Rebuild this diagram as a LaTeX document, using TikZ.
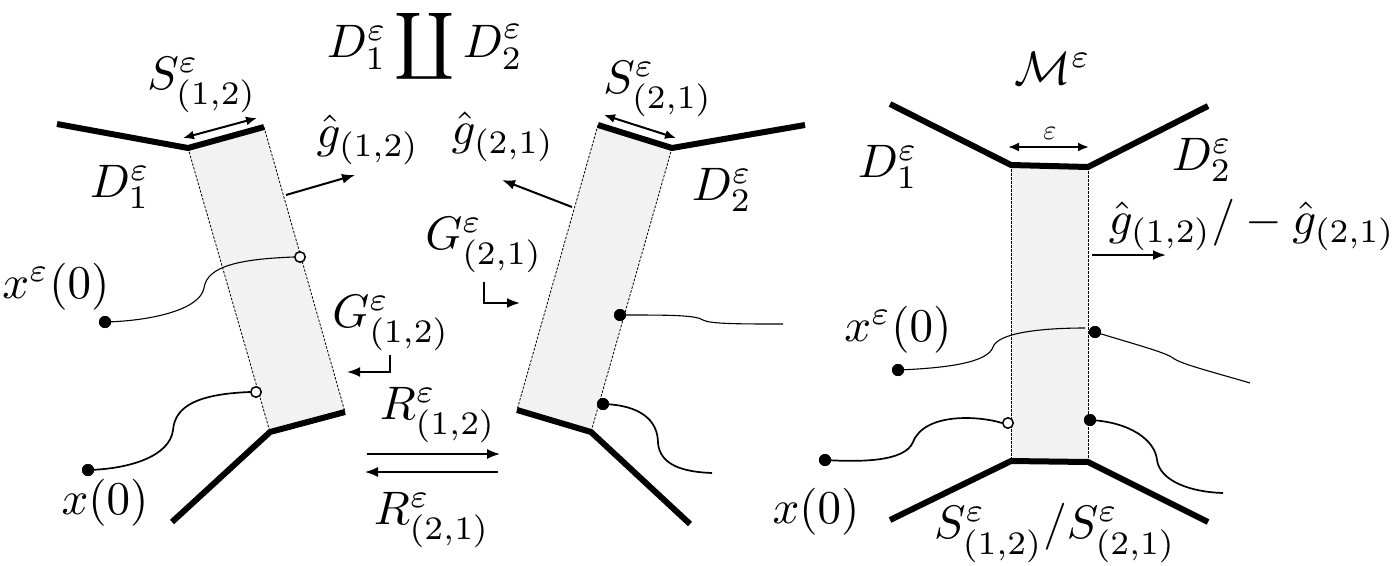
\documentclass[tikz,border=0pt]{standalone}
\usetikzlibrary{arrows.meta}
\definecolor{stripgray}{RGB}{242,242,242}
\begin{document}
\begin{tikzpicture}[x=1pt,y=-1pt,
  wall/.style={line width=6pt, line join=round},
  edge/.style={line width=0.8pt, dash pattern=on 2.5pt off 1.5pt},
  strip/.style={fill=stripgray},
  path1/.style={line width=1.1pt},
  path2/.style={line width=1.7pt},
  arr/.style={line width=2pt, -{Latex[length=13pt,width=10pt]}},
  darr/.style={line width=2pt, {Latex[length=11pt,width=9pt]}-{Latex[length=11pt,width=9pt]}},
  rarr/.style={line width=1.5pt, -{Latex[length=13pt,width=10pt]}},
  fdot/.style={circle, fill=black, inner sep=0pt, minimum size=12pt},
  odot/.style={circle, draw=black, fill=white, line width=1.5pt, inner sep=0pt, minimum size=10.5pt},
  lbl/.style={inner sep=0pt, scale=4.7},
  slbl/.style={inner sep=0pt, scale=2.8}]
\useasboundingbox (0,0) rectangle (1397,565);

% ---------- left piece D1 ----------
\coordinate (LA) at (188,148);
\coordinate (LB) at (264,127);
\coordinate (LC) at (345,412);
\coordinate (LD) at (270,432);
\coordinate (LW1) at (57,124);
\coordinate (LW2) at (172,522);
\fill[strip] (LA)--(LB)--(LC)--(LD)--cycle;
\draw[edge] (LA)--(LD) (LB)--(LC);
\draw[wall] (LW1)--(LA)--(LB);
\draw[wall] (LW2)--(LD)--(LC);

\node[odot] (lo1) at (300,257) {};
\node[fdot] (lf1) at (105,322) {};
\draw[path1] (lo1.west) .. controls (240,259) and (207,266) .. (204,288) .. controls (200,310) and (150,321) .. (lf1.center);
\node[odot] (lo2) at (256,392) {};
\node[fdot] (lf2) at (88,470) {};
\draw[path2] (lo2.west) .. controls (200,394) and (175,405) .. (173,430) .. controls (170,456) and (130,469) .. (lf2.center);
\node[fdot] at (lf1) {};
\node[fdot] at (lf2) {};

\coordinate (ls1) at (183,138);
\coordinate (ls2) at (257,118);
\draw[darr] (ls1)--(ls2);
\node[lbl] (lS) at (202,85) {$S^{\varepsilon}_{(1,2)}$};
\node[lbl] (lD1) at (120,187) {$D^{\varepsilon}_{1}$};
\coordinate (lg1) at (286,195);
\coordinate (lg2) at (355,175);
\draw[arr] (lg1)--(lg2);
\node[lbl] (lg) at (368,140) {$\hat g_{(1,2)}$};
\node[lbl] (lxe) at (56,287) {$x^{\varepsilon}(0)$};
\node[lbl] (lx) at (105,503) {$x(0)$};
\node[lbl] (G12) at (391,323) {$G^{\varepsilon}_{(1,2)}$};
\coordinate (g12a) at (390,355);
\coordinate (g12b) at (347,372);
\draw[arr] (g12a)|-(g12b);

% ---------- title ----------
\node[lbl] (title) at (425,46) {$D^{\varepsilon}_{1}\displaystyle\coprod D^{\varepsilon}_{2}$};

% ---------- R arrows ----------
\coordinate (r1a) at (367,454);
\coordinate (r1b) at (500,454);
\coordinate (r2a) at (498,472);
\coordinate (r2b) at (365,472);
\draw[rarr] (r1a)--(r1b);
\draw[rarr] (r2a)--(r2b);
\node[lbl] (R12) at (438,415) {$R^{\varepsilon}_{(1,2)}$};
\node[lbl] (R21) at (432,520) {$R^{\varepsilon}_{(2,1)}$};

% ---------- middle piece D2 ----------
\coordinate (MP) at (598,125);
\coordinate (MQ) at (672,148);
\coordinate (MR) at (591,432);
\coordinate (MS) at (517,410);
\coordinate (MW1) at (805,125);
\coordinate (MW2) at (690,524);
\fill[strip] (MP)--(MQ)--(MR)--(MS)--cycle;
\draw[edge] (MP)--(MS) (MQ)--(MR);
\draw[wall] (MP)--(MQ)--(MW1);
\draw[wall] (MS)--(MR)--(MW2);

\node[fdot] (mf1) at (620,315) {};
\coordinate (me1) at (783,324);
\draw[path1] (mf1.center) .. controls (670,315) and (695,315) .. (703,320) .. controls (710,324) and (740,324) .. (me1);
\node[fdot] (mf2) at (603,404) {};
\coordinate (me2) at (712,473);
\draw[path2] (mf2.center) .. controls (640,405) and (658,420) .. (658,443) .. controls (660,466) and (685,472) .. (me2);

\coordinate (ms1) at (604,115);
\coordinate (ms2) at (676,138);
\draw[darr] (ms1)--(ms2);
\node[lbl] (mS) at (658,89) {$S^{\varepsilon}_{(2,1)}$};
\node[lbl] (mD2) at (722,190) {$D^{\varepsilon}_{2}$};
\coordinate (mg1) at (572,207);
\coordinate (mg2) at (502,180);
\draw[arr] (mg1)--(mg2);
\node[lbl] (mg) at (503,137) {$\hat g_{(2,1)}$};
\node[lbl] (G21) at (484,245) {$G^{\varepsilon}_{(2,1)}$};
\coordinate (g21a) at (484,282);
\coordinate (g21b) at (520,303);
\draw[arr] (g21a)|-(g21b);

% ---------- right: glued manifold ----------
\coordinate (RA) at (1011,165);
\coordinate (RB) at (1088,167);
\coordinate (RC) at (1088,462);
\coordinate (RD) at (1011,461);
\coordinate (RW1) at (890,104);
\coordinate (RW2) at (1208,106);
\coordinate (RW3) at (890,520);
\coordinate (RW4) at (1208,522);
\fill[strip] (RA)--(RB)--(RC)--(RD)--cycle;
\draw[edge] (RA)--(RD) (RB)--(RC);
\draw[wall] (RW1)--(RA)--(RB)--(RW2);
\draw[wall] (RW3)--(RD)--(RC)--(RW4);

\node[fdot] (rf1) at (898,370) {};
\coordinate (rm1) at (1085,328);
\draw[path1] (rf1.center) .. controls (950,368) and (988,362) .. (993,347) .. controls (998,333) and (1040,328) .. (rm1);
\node[fdot] (rf2) at (1095,332) {};
\coordinate (re2) at (1250,383);
\draw[path1] (rf2.center) .. controls (1130,343) and (1165,352) .. (1173,358) .. controls (1180,364) and (1220,374) .. (re2);
\node[odot] (ro3) at (1008,423) {};
\node[fdot] (rf3) at (825,460) {};
\draw[path2] (ro3.west) .. controls (980,416) and (925,412) .. (913,442) .. controls (905,462) and (860,462) .. (rf3.center);
\node[fdot] (rf4) at (1090,420) {};
\coordinate (re4) at (1223,493);
\draw[path2] (rf4.center) .. controls (1130,422) and (1155,440) .. (1157,460) .. controls (1160,481) and (1190,492) .. (re4);
\node[fdot] at (rf1) {};
\node[fdot] at (rf2) {};
\node[fdot] at (rf3) {};
\node[fdot] at (rf4) {};
\node[fdot] at (mf1) {};
\node[fdot] at (mf2) {};

\coordinate (re1) at (1008,147);
\coordinate (re1b) at (1089,147);
\draw[darr] (re1)--(re1b);
\node[slbl] (eps) at (1050,133) {$\varepsilon$};
\node[lbl] (M) at (1053,68) {$\mathcal{M}^{\varepsilon}$};
\node[lbl] (rD1) at (888,167) {$D^{\varepsilon}_{1}$};
\node[lbl] (rD2) at (1202,160) {$D^{\varepsilon}_{2}$};
\coordinate (rg1) at (1092,255);
\coordinate (rg2) at (1166,255);
\draw[arr] (rg1)--(rg2);
\node[lbl] (rg) at (1252,225) {$\hat g_{(1,2)}/-\hat g_{(2,1)}$};
\node[lbl] (rxe) at (898,330) {$x^{\varepsilon}(0)$};
\node[lbl] (rx) at (816,512) {$x(0)$};
\node[lbl] (rS) at (1055,533) {$S^{\varepsilon}_{(1,2)}/S^{\varepsilon}_{(2,1)}$};
\end{tikzpicture}
\end{document}
